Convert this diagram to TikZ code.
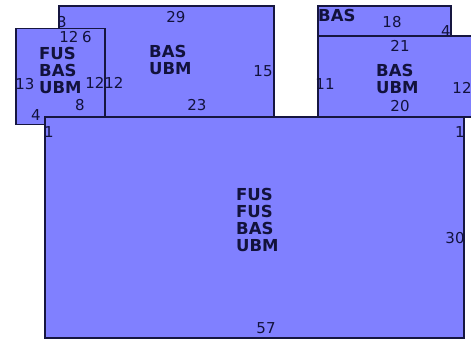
\documentclass[tikz,border=0pt]{standalone}
\usepackage{fontspec}
\setmainfont{DejaVu Sans}
\definecolor{boxfill}{RGB}{128,128,255}
\definecolor{boxline}{RGB}{22,22,64}
\definecolor{txt}{RGB}{18,18,60}
\begin{document}
\begin{tikzpicture}[x=1pt,y=-1pt,
  part/.style={rectangle,fill=boxfill,draw=boxline,line width=1.1pt,anchor=north west,inner sep=0pt,outer sep=0pt},
  num/.style={inner sep=0pt,font=\fontsize{15}{15}\selectfont,text=txt},
  lab/.style={inner sep=0pt,anchor=north west,align=left,font=\fontsize{16.5}{17}\selectfont\bfseries,text=txt}]
\clip (0,0) rectangle (471,339);
\fill[white] (0,0) rectangle (471,339);
% rectangles
\node[part,minimum width=215pt,minimum height=111pt] (ra) at (59,6) {};
\node[part,minimum width=89pt,minimum height=96pt] (rb) at (16,28.5) {};
\node[part,minimum width=133pt,minimum height=31pt] (rc) at (318,6) {};
\node[part,minimum width=160pt,minimum height=81pt] (rd) at (318,36) {};
\node[part,minimum width=419pt,minimum height=221pt] (big) at (45,117) {};
% bold labels
\node[lab] (la) at (149,45) {BAS\\UBM};
\node[lab] (lb) at (39,47) {FUS\\BAS\\UBM};
\node[lab] (lc) at (318,9) {BAS};
\node[lab] (ld) at (376,64) {BAS\\UBM};
\node[lab] (lbig) at (236,188) {FUS\\FUS\\BAS\\UBM};
% numbers
\node[num] (a29) at (176,17) {29};
\node[num] (a15) at (263,71) {15};
\node[num] (a23) at (197,105) {23};
\node[num] (a3) at (62,22) {3};
\node[num] (a12) at (114,83) {12};
\node[num] (b12t) at (69,37) {12};
\node[num] (b6) at (87,37) {6};
\node[num] (b13) at (25,84) {13};
\node[num] (b12r) at (95,83) {12};
\node[num] (b8) at (80,105) {8};
\node[num] (b4) at (36,115) {4};
\node[num] (c18) at (392,22) {18};
\node[num] (c4) at (446,31) {4};
\node[num] (d21) at (400,46) {21};
\node[num] (d11) at (325,84) {11};
\node[num] (d12) at (462,88) {12};
\node[num] (d20) at (400,106) {20};
\node[num] (g1l) at (49,132) {1};
\node[num] (g1r) at (460,132) {1};
\node[num] (g30) at (455,238) {30};
\node[num] (g57) at (266,328) {57};
\end{tikzpicture}
\end{document}
